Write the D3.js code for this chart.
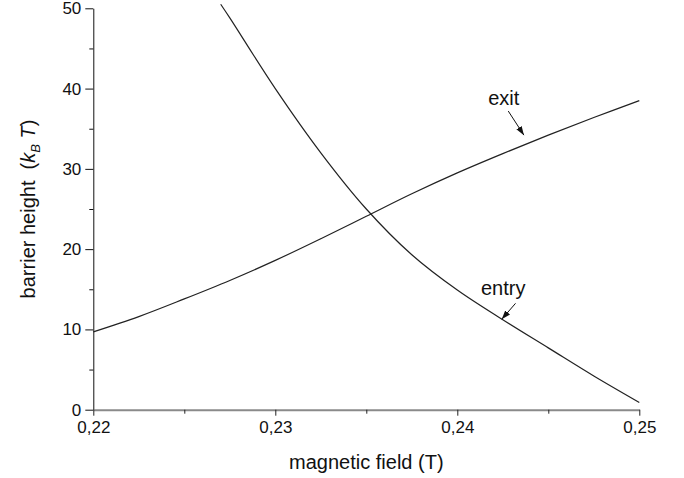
<!DOCTYPE html>
<html>
<head>
<meta charset="utf-8">
<script src="https://cdn.jsdelivr.net/npm/d3@7"></script>
<style>
  body { margin: 0; background: #fff; }
  text { font-family: "Liberation Sans", Arial, sans-serif; fill: #111; }
</style>
</head>
<body>
<div id="chart"></div>
<script>
// values
const exitField = [0.22, 0.2225, 0.225, 0.2275, 0.23, 0.2325, 0.235, 0.2375, 0.24, 0.2425, 0.245, 0.2475, 0.25]
const exitHeight = [9.7, 11.6, 13.8, 16.1, 18.6, 21.3, 24.1, 26.9, 29.5, 31.9, 34.2, 36.4, 38.5]

const entryField = [0.227, 0.2275, 0.23, 0.2325, 0.235, 0.2375, 0.24, 0.2425, 0.245, 0.2475, 0.25]
const entryHeight = [50.5, 48.8, 40.0, 32.0, 25.0, 19.3, 14.9, 11.2, 7.7, 4.2, 0.9]

const xMajor = [0.22, 0.23, 0.24, 0.25]
const xMinor = [0.225, 0.235, 0.245]
const yMajor = [0, 10, 20, 30, 40, 50]
const yMinor = [5, 15, 25, 35, 45]

// labels with arrows: text anchor point, arrow start, arrow end (data units)
const labels = [
    { text: 'exit', x: 0.2417, y: 37.9, from: [0.2428, 37.2], to: [0.24366, 34.2] },
    { text: 'entry', x: 0.2413, y: 14.3, from: [0.2432, 13.25], to: [0.24244, 11.26] }
]

const width = 684, height = 478
const margin = { top: 8.3, right: 44.7, bottom: 68.3, left: 93.3 }

const svg = d3.select('#chart')
    .append('svg')
    .attr('width', width)
    .attr('height', height)

const x = d3.scaleLinear()
    .domain([0.22, 0.25])
    .range([margin.left, width - margin.right])

const y = d3.scaleLinear()
    .domain([0, 50])
    .range([height - margin.bottom, margin.top])

const comma = d => d3.format('.2f')(d).replace('.', ',')

// y axis
const gy = svg.append('g')
    .attr('transform', `translate(${margin.left},0)`)
    .call(d3.axisLeft(y).tickValues(yMajor).tickSize(8).tickSizeOuter(0).tickPadding(4))
gy.select('.domain').attr('stroke', '#111')
gy.selectAll('.tick line').attr('stroke', '#111')
gy.selectAll('.tick text')
    .attr('font-size', 17)
    .attr('font-family', '"Liberation Sans", Arial, sans-serif')
    .attr('fill', '#111')

svg.append('g')
    .attr('transform', `translate(${margin.left},0)`)
    .call(d3.axisLeft(y).tickValues(yMinor).tickSize(4).tickFormat(''))
    .call(g => g.select('.domain').remove())
    .selectAll('.tick line').attr('stroke', '#111')

// x axis
const gx = svg.append('g')
    .attr('transform', `translate(0,${y(0)})`)
    .call(d3.axisBottom(x).tickValues(xMajor).tickSize(6).tickSizeOuter(0).tickPadding(5).tickFormat(comma))
gx.select('.domain').attr('stroke', '#8a8a8a').attr('stroke-width', 2)
gx.selectAll('.tick line').attr('stroke', '#222')
gx.selectAll('.tick text')
    .attr('font-size', 17)
    .attr('font-family', '"Liberation Sans", Arial, sans-serif')
    .attr('fill', '#111')

svg.append('g')
    .attr('transform', `translate(0,${y(0)})`)
    .call(d3.axisBottom(x).tickValues(xMinor).tickSize(4).tickFormat(''))
    .call(g => g.select('.domain').remove())
    .selectAll('.tick line').attr('stroke', '#222')

// axis titles
svg.append('text')
    .attr('x', (x(0.22) + x(0.25)) / 2)
    .attr('y', 468.5)
    .attr('text-anchor', 'middle')
    .attr('font-size', 20)
    .text('magnetic field (T)')

const yt = svg.append('text')
    .attr('transform', `translate(35,${(y(0) + y(50)) / 2}) rotate(-90)`)
    .attr('text-anchor', 'middle')
    .attr('font-size', 20)
yt.append('tspan').text('barrier height\u00a0\u00a0(')
yt.append('tspan').attr('font-style', 'italic').text('k')
yt.append('tspan').attr('font-style', 'italic').attr('font-size', 13).attr('dy', 5).text('B')
yt.append('tspan').attr('dy', -5).text('\u00a0')
yt.append('tspan').attr('font-style', 'italic').text('T')
yt.append('tspan').text(')')

// curves
const line = d3.line()
    .x(d => x(d[0]))
    .y(d => y(d[1]))
    .curve(d3.curveCatmullRom)

svg.append('path')
    .datum(exitField.map((f, i) => [f, exitHeight[i]]))
    .attr('d', line)
    .attr('fill', 'none')
    .attr('stroke', '#222')
    .attr('stroke-width', 1.2)

svg.append('path')
    .datum(entryField.map((f, i) => [f, entryHeight[i]]))
    .attr('d', line)
    .attr('fill', 'none')
    .attr('stroke', '#222')
    .attr('stroke-width', 1.2)

// arrows
svg.append('defs').append('marker')
    .attr('id', 'head')
    .attr('viewBox', '0 0 10 10')
    .attr('refX', 10)
    .attr('refY', 5)
    .attr('markerWidth', 9)
    .attr('markerHeight', 9)
    .attr('markerUnits', 'userSpaceOnUse')
    .attr('orient', 'auto')
    .append('path')
    .attr('d', 'M0,1.5 L10,5 L0,8.5 Z')
    .attr('fill', '#111')

labels.forEach(l => {
    svg.append('text')
        .attr('x', x(l.x))
        .attr('y', y(l.y))
        .attr('font-size', 20)
        .text(l.text)
    svg.append('line')
        .attr('x1', x(l.from[0]))
        .attr('y1', y(l.from[1]))
        .attr('x2', x(l.to[0]))
        .attr('y2', y(l.to[1]))
        .attr('stroke', '#111')
        .attr('stroke-width', 1)
        .attr('marker-end', 'url(#head)')
})
</script>
</body>
</html>
